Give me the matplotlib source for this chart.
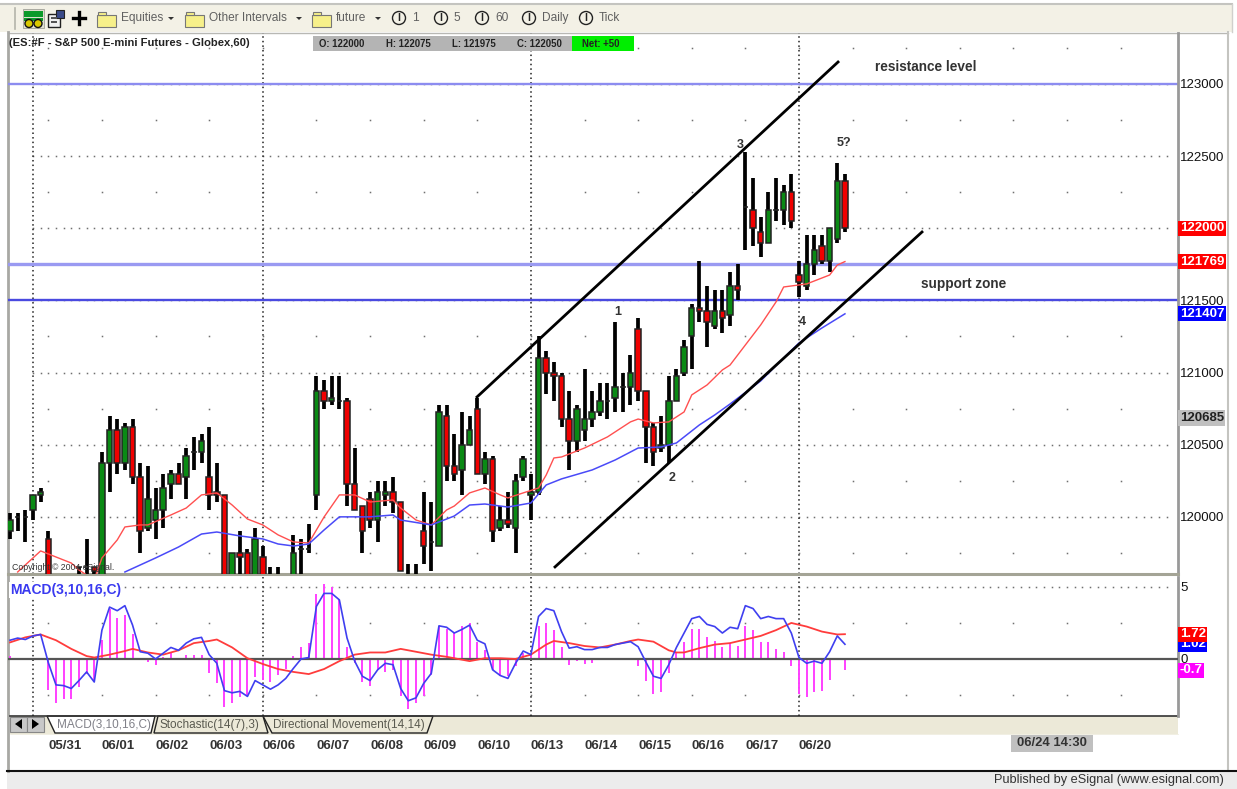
import matplotlib
matplotlib.use("Agg")
import matplotlib.pyplot as plt
from matplotlib.patches import Rectangle, Polygon, Circle
from matplotlib.transforms import blended_transform_factory
import numpy as np

plt.rcParams['font.family'] = ['Liberation Sans', 'DejaVu Sans']

W, H = 1237, 789

opens = [119900,120000,120000,120050,120150,119850,119400,119400,119400,119650,
         119650,119650,119450,120375,120600,120375,120625,120275,119925,119975,
         120050,120225,120300,120275,120450,120450,120275,120175,120150,119450,
         119750,119750,119450,119725,119400,119400,119400,119450,119775,119775,
         120150,120875,120800,120800,120800,120225,120075,120125,119975,120150,
         120175,120100,119400,119400,119900,119825,119800,120700,120350,120325,
         120500,120750,120300,120400,119925,119975,119925,120275,120150,120175,
         121100,121000,120975,120675,120525,120600,120675,120725,120800,120825,
         120900,120900,121300,120875,120625,120475,120500,120800,121000,121250,
         121450,121425,121325,121425,121400,121600,122150,122125,121975,121900,
         122125,122125,122250,121675,121600,121750,121875,121775,121925,122325]
highs = [120025,120025,120050,120150,120200,119900,119450,119450,119450,119650,
         119850,119650,120450,120700,120675,120650,120675,120375,120350,120200,
         120300,120325,120375,120475,120550,120575,120625,120375,120150,119750,
         119900,119775,119925,119800,119650,119650,119450,119875,119850,119950,
         120975,120950,120975,120975,120825,120475,120075,120175,120250,120250,
         120275,120100,119675,119675,120175,120100,120775,120775,120575,120725,
         120700,120825,120450,120425,120075,120175,120300,120425,120300,121250,
         121150,121075,121000,120875,120775,121025,120875,120925,120925,121350,
         121000,121125,121375,120875,120650,120700,120975,121025,121225,121475,
         121775,121600,121575,121575,121700,121750,122525,122350,122075,122250,
         122350,122300,122375,121775,121950,121950,121950,122000,122450,122375]
lows = [119850,119900,119825,119975,120100,119400,119300,119300,119300,119500,
        119500,119500,119400,120175,120300,120325,120225,119750,119900,119850,
        119925,120125,120225,120125,120325,120375,120050,120100,119400,119400,
        119400,119400,119400,119400,119400,119400,119300,119400,119400,119750,
        120050,120750,120775,120750,120075,120050,119750,119925,119825,120075,
        120025,119625,119400,119400,119675,119625,119800,120250,120250,120150,
        120500,120300,120225,119825,119900,119925,119750,120250,119975,120150,
        120850,120800,120625,120325,120450,120525,120625,120700,120675,120725,
        120725,120775,120800,120375,120350,120450,120375,120800,120975,121025,
        121350,121175,121300,121275,121325,121500,121850,121875,121800,121900,
        122050,122025,122000,121525,121575,121675,121750,121700,121900,121975]
closes = [119975,120000,120000,120150,120175,119450,119350,119350,119350,119650,
          119650,119625,120375,120600,120375,120625,120275,119900,120125,120050,
          120200,120300,120225,120425,120450,120525,120150,120150,119450,119750,
          119725,119450,119850,119450,119400,119400,119400,119750,119775,119775,
          120875,120800,120825,120800,120225,120050,119900,119975,120175,120175,
          120100,119625,119400,119400,119800,119825,120725,120350,120300,120500,
          120600,120300,120400,119900,119975,119950,120250,120400,120175,121100,
          121000,120975,120675,120525,120750,120675,120725,120800,120800,120900,
          120900,121000,120875,120625,120450,120500,120800,120975,121175,121450,
          121425,121350,121425,121375,121600,121575,122150,122000,121900,122125,
          122125,122250,122050,121625,121750,121850,121775,122000,122325,122000]

ma_red_idx = [1,4,6,8,9,10,11,12,14,15,17,18,21,23,25,27,29,31,33,35,37,39,41,43,45,47,50,51,53,55,
              57,58,60,62,64,65,67,69,70,71,72,75,78,81,82,84,86,88,89,91,93,94,98,100,101,104,107,108,109]
ma_red_val = [119618,119764,119722,119680,119632,119597,119563,119715,119840,119930,119944,119944,
              120013,120061,120152,120166,120082,119985,119944,119875,119826,119819,119999,120152,
              120152,120103,120117,120061,119978,119944,120048,120075,120166,120200,120152,120131,
              120166,120200,120290,120408,120415,120477,120554,120658,120678,120651,120658,120727,
              120845,120914,121018,121052,121330,121489,121593,121614,121676,121745,121769]

ma_blue_idx = [15,19,22,25,27,30,33,35,37,39,41,43,45,47,50,51,55,57,58,60,62,65,68,70,72,76,79,82,85,87,
               90,92,94,98,101,103,106,109]
ma_blue_val = [119618,119715,119791,119881,119895,119868,119847,119812,119798,119812,119909,120000,
               120000,120000,120013,119978,119944,119985,120006,120082,120089,120068,120096,120221,
               120263,120325,120394,120477,120484,120512,120637,120706,120782,120942,121101,121205,
               121309,121407]

macd_hist = [.2,.1,-.1,0,0,-2.15,-3.08,-2.8,-2.78,-1.97,
             -1.07,-1.57,1.3,3.5,2.87,3.05,1.7,-.07,-.2,-.4,
             .15,.4,.1,.3,.3,.3,-1,-1.65,-3.35,-3.08,
             -2.66,-2.5,-1.27,-1.46,-1.57,-1.1,-.7,.2,.85,1.1,
             4.5,5.2,5,4.1,.85,-.3,-1.57,-1.9,-.75,-.9,
             -.75,-2.6,-3.47,-3.08,-2.6,-1.1,2.3,2.1,1.85,2.3,
             2.5,1.2,.6,-.75,-1.2,-1.2,-.5,.4,.3,2.3,
             2.5,2,.8,-.4,-.15,-.35,-.3,0,.05,.05,
             .05,.1,-.5,-1.5,-2.4,-2.3,-1,.4,1.15,2.1,
             2.1,1.5,1.25,.8,1.1,.9,2.3,2,1.15,1.15,
             .7,.45,-.5,-2.4,-2.66,-2.27,-2.2,-1.46,.05,-.76]
macd_line = [1.3,1.45,1.35,1.6,1.7,-.25,-1.8,-1.85,-2.05,-1.5,
             -.9,-1.6,2,3.6,3.35,3.7,2.35,.5,.4,0,
             .4,.8,.6,1.1,1.4,1.5,.3,-.3,-2.2,-2.35,
             -2.25,-2.6,-1.5,-1.8,-2.1,-1.8,-1.35,-.65,0,.1,
             3.65,4.55,4.55,4.1,1.45,-.15,-1.2,-1.5,-.75,-.3,
             -.4,-2.05,-2.9,-2.7,-1.7,-1,2.3,2.2,1.8,2.05,
             2.35,1.3,1.05,-.75,-1.15,-1.35,-.3,.55,.3,2.95,
             3.5,3.35,1.9,.75,.85,.65,.65,.8,.8,1,
             1.1,1.2,.85,-.2,-1.2,-1.35,-.4,.8,1.8,2.8,
             2.95,2.4,2.25,1.8,2.2,2.1,3.7,3.5,2.8,2.95,
             2.8,2.8,1.8,.1,-.3,-.15,-.3,.5,1.6,1.02]
signal_idx = [0,2,4,6,8,10,11,13,15,16,18,20,22,24,26,27,29,31,33,35,37,39,41,43,45,47,49,51,53,55,
              57,60,62,64,66,68,70,71,73,75,77,79,81,82,84,86,87,88,90,92,94,96,98,100,102,104,106,108,109]
signal_val = [1.15,1.5,1.7,1.3,.7,.2,.1,.3,.55,.7,.45,.3,.6,1.1,1.25,1.35,.8,.05,-.35,-.7,-.9,-1.05,
              -.7,-.15,.3,.45,.45,.7,.5,.3,.15,-.15,.05,.05,0,.3,1,1.25,1.1,.9,.8,1,1.25,1.35,1.2,.6,
              .45,.45,.75,1,1.1,1.35,1.6,2,2.5,2.25,1.9,1.7,1.72]

date_labels = ["05/31","06/01","06/02","06/03","06/06","06/07","06/08","06/09",
               "06/10","06/13","06/14","06/15","06/16","06/17","06/20"]
date_idx = [5+7*k for k in range(len(date_labels))]
session_idx = [3,33,68,103]
price_ticks = [120000,120500,121000,121500,122000,122500,123000]
level_lines = [123000,121750,121500]
upper_channel = ([60.97,108.1],[120831,123152])
lower_channel = ([71.15,119.06],[119653,121974])

def px_rect(l, t, r, b):
    return [l/W, 1-b/H, (r-l)/W, (b-t)/H]

fig = plt.figure(figsize=(W/100, H/100), dpi=100, facecolor='white')

# chrome layer in pixel coordinates
ch = fig.add_axes([0,0,1,1], zorder=0)
ch.set_xlim(0,W); ch.set_ylim(H,0); ch.axis('off')
def R(l,t,r,b,fc,ec='none',lw=0,**k):
    ch.add_patch(Rectangle((l,t),r-l,b-t,fc=fc,ec=ec,lw=lw,**k))
R(0,3,1232,32,'#f3f1e6')
ch.plot([0,1232],[4,4],color='#c4c4c0',lw=1.5)
ch.plot([1232,1232],[4,32],color='#d0d0cc',lw=1)
ch.plot([8,1228],[32.5,32.5],color='#b8b8b4',lw=1)
ch.plot([8,8],[32,771],color='#a8a8a4',lw=2)
ch.plot([1228,1228],[32,771],color='#c4c4c0',lw=1.5)
R(7,772,1237,789,'#ececec')
ch.plot([7,1237],[771,771],color='#111111',lw=1.5)
# toolbar
ch.plot([15,15],[8,29],color='#b4b4aa',lw=1.2)
R(23,9,44,28,'#dfdfd0',ec='#a0a098',lw=.6)
R(24,11,43,17,'#0a9a2a'); R(24,18,43,21,'#0a9a2a')
for cx in (29,38):
    ch.add_patch(Circle((cx,23.5),4,fc='#d8c800',ec='#111',lw=1))
R(48,14,60,27,'#f0f0f0',ec='#222',lw=1)
R(56,10,64,18,'#3a4a88',ec='#222',lw=.8)
R(51,17,57,19,'#555'); R(51,21,57,23,'#555')
ch.plot([79,79],[12,24],color='k',lw=2.4); ch.plot([73,85],[18,18],color='k',lw=2.4)
tool_font = dict(fontsize=8.6,color='#606060',va='center',ha='left')
for x,lab,ax_ in [(97,'Equities',171),(185,'Other Intervals',299),(312,'future',378)]:
    R(x,15,x+19,27,'#f7f08a',ec='#777',lw=.8)
    R(x+1,12,x+9,15,'#f7f08a',ec='#777',lw=.8)
    tx = x+24
    ch.text(tx,18,lab,**tool_font)
    ch.add_patch(Polygon([(ax_-3,17),(ax_+3,17),(ax_,20)],fc='#333'))
for cx,lab in [(399,'1'),(441,'5'),(482,'60'),(529,'Daily'),(586,'Tick')]:
    ch.add_patch(Circle((cx,18),6.5,fc='#f3f1e6',ec='#222',lw=1))
    ch.text(cx,18,'I',fontsize=7.5,ha='center',va='center',color='#222',fontweight='bold')
    ch.text(cx+13,18,lab,**tool_font)
# tab bar
R(10,716,1178,733.5,'#ece9d8')
ch.plot([10,1178],[716,716],color='#333',lw=1.2)
ch.plot([10,1178],[733.5,733.5],color='#ece9d8',lw=.5)
for l in (10,27):
    R(l,717,l+17,732,'#c8c8c8',ec='#888',lw=.8)
ch.add_patch(Polygon([(22,719),(22,729),(15,724)],fc='k'))
ch.add_patch(Polygon([(32,719),(32,729),(39,724)],fc='k'))
ch.add_patch(Polygon([(47,716),(155,716),(151,733),(55,733)],fc='white',ec='#222',lw=1))
ch.add_patch(Polygon([(158,716),(263,716),(268,733),(154,733)],fc='#ece9d8',ec='#222',lw=1))
ch.add_patch(Polygon([(263,716),(433,716),(427,733),(272,733)],fc='#ece9d8',ec='#222',lw=1))
tab_font = dict(fontsize=8.5,va='center',ha='left')
ch.text(57,725,'MACD(3,10,16,C)',color='#808088',**tab_font)
ch.text(160,725,'Stochastic(14(7),3)',color='#5a5a50',**tab_font)
ch.text(273,725,'Directional Movement(14,14)',color='#5a5a50',**tab_font)
R(1011,735,1093,752,'#c0c0c0')
ch.text(1052,743.5,'06/24 14:30',fontsize=9.4,fontweight='bold',color='#333',ha='center',va='center')
ch.text(1224,780.5,'Published by eSignal (www.esignal.com)',fontsize=9.2,color='#333',ha='right',va='center')
# header strip
ch.text(9,43,'(ES:#F - S&P 500 E-mini Futures - Globex,60)',fontsize=8.15,fontweight='bold',color='#222',
        ha='left',va='center',zorder=10)

# price panel
idx = np.arange(len(opens))
xlim = ((8-10)/7.66, (1178-10)/7.66)
ax = fig.add_axes(px_rect(8,33,1178,574), zorder=2)
ax.patch.set_alpha(0)
ax.set_xlim(*xlim); ax.set_ylim(119604,123353)
for s in ax.spines.values(): s.set_visible(False)
ax.spines['right'].set_visible(True); ax.spines['right'].set_color('#999'); ax.spines['right'].set_linewidth(2)
ax.spines['bottom'].set_visible(True); ax.spines['bottom'].set_color('#a4a496'); ax.spines['bottom'].set_linewidth(2.2)
ax.yaxis.tick_right()
ax.set_yticks(price_ticks); ax.set_xticks([])
ax.tick_params(axis='y',length=0,pad=1.5,labelsize=9.5,colors='#111')
for lb in ax.get_yticklabels(): lb.set_fontweight('medium')

grid_c = '#707070'
gx = np.arange(3,152,1)
gy = np.arange(119750,123400,250)
for g in price_ticks:
    ax.plot(gx,[g]*len(gx),ls='none',marker='s',ms=1.1,mew=0,color=grid_c,zorder=1)
col_x = np.array(date_idx+[5+7*k for k in range(15,21)])
for yy in gy:
    if yy not in price_ticks:
        ax.plot(col_x,[yy]*len(col_x),ls='none',marker='s',ms=1.1,mew=0,color=grid_c,zorder=1)

for s_ in session_idx:
    ax.axvline(s_,color='#222',lw=1.1,ls=(0,(1,2)),zorder=1)

ax.axhline(level_lines[0],color='#8c8cf0',lw=1.7,zorder=1.5)
ax.axhline(level_lines[1],color='#9a9af2',lw=2.4,zorder=1.5)
ax.axhline(level_lines[2],color='#4a4ae0',lw=1.7,zorder=1.5)

colors = ['#0a8a14' if c>o else ('#f00000' if c<o else '#111111') for o,c in zip(opens,closes)]
ax.vlines(idx,lows,highs,color='black',lw=2.7,zorder=3)
ax.bar(idx,np.abs(np.array(closes)-np.array(opens)),bottom=np.minimum(opens,closes),
       width=.72,color=colors,edgecolor='#222222',linewidth=1.1,zorder=4)
ax.plot(ma_red_idx,ma_red_val,color='#ff5050',lw=1,zorder=5)
ax.plot(ma_blue_idx,ma_blue_val,color='#4a4af8',lw=1.1,zorder=5)
ax.plot(*upper_channel,color='black',lw=2,zorder=6)
ax.plot(*lower_channel,color='black',lw=2,zorder=6)

lab = dict(fontsize=9,fontweight='bold',color='#333',zorder=7,va='center')
ax.text(112.9,123115,'resistance level',ha='left',**{**lab,'fontsize':9.8})
ax.text(118.9,121615,'support zone',ha='left',**{**lab,'fontsize':9.8})
for x,y,t,ha_ in [(79.4,121420,'1','center'),(86.4,120270,'2','center'),(95.4,122580,'3','center'),
                  (103.4,121350,'4','center'),(108.9,122590,'5?','center')]:
    ax.text(x,y,t,ha=ha_,**lab)
ax.text(0.3,119652,'Copyright \u00a9 2004 eSignal.',fontsize=6.3,color='#333',ha='left',va='center',zorder=7)

tr = blended_transform_factory(ax.transAxes,ax.transData)
def side(a,tr_,val,txt,fc,col='white',z=9,fs=9.5):
    a.text(1.0015,val,txt,transform=tr_,fontsize=fs,color=col,fontweight='bold',ha='left',va='center',
           zorder=z,clip_on=False,bbox=dict(boxstyle='square,pad=0.12',fc=fc,ec='none'))
side(ax,tr,122000,'122000','#ff0000')
side(ax,tr,121769,'121769','#ff0000')
side(ax,tr,121407,'121407','#0000ff')
side(ax,tr,120685,'120685','#c0c0c0','#222')

# OHLC strip
ch2 = fig.add_axes([0,0,1,1],zorder=8); ch2.set_xlim(0,W); ch2.set_ylim(H,0); ch2.axis('off')
ch2.add_patch(Rectangle((313,36),259,15,fc='#b4b4b4',ec='none'))
ch2.add_patch(Rectangle((572,36),62,15,fc='#00ee00',ec='none'))
ohlc = dict(fontsize=6.9,fontweight='bold',color='#222',va='center',ha='left')
for x,t in [(319,'O: 122000'),(386,'H: 122075'),(452,'L: 121975'),(517,'C: 122050'),(582,'Net: +50')]:
    ch2.text(x,43.5,t,**ohlc)

# MACD panel
am = fig.add_axes(px_rect(8,577,1178,716), zorder=2)
am.patch.set_alpha(0)
am.set_xlim(*xlim); am.set_ylim(-3.96,5.69)
for s in am.spines.values(): s.set_visible(False)
am.spines['right'].set_visible(True); am.spines['right'].set_color('#999'); am.spines['right'].set_linewidth(2)
am.yaxis.tick_right(); am.set_yticks([0,5])
am.tick_params(axis='y',length=0,pad=1.5,labelsize=9.5,colors='#111')
am.set_xticks(date_idx); am.set_xticklabels(date_labels,fontsize=9.5,fontweight='bold',color='#333',ha='left')
am.tick_params(axis='x',length=0,pad=17.5)
for r_ in (5,):
    am.plot(gx,[r_]*len(gx),ls='none',marker='s',ms=1.1,mew=0,color=grid_c,zorder=1)
for r_ in (2.5,-2.5):
    am.plot(col_x,[r_]*len(col_x),ls='none',marker='s',ms=1.1,mew=0,color=grid_c,zorder=1)
for s_ in session_idx:
    am.axvline(s_,color='#222',lw=1.1,ls=(0,(1,2)),zorder=1)
am.vlines(idx,0,macd_hist,color='#ff40ff',lw=1.4,zorder=2)
am.axhline(0,color='#555555',lw=1.6,zorder=3)
am.plot(signal_idx,signal_val,color='#ff3c3c',lw=1.3,zorder=4)
am.plot(idx,macd_line,color='#3f3ff0',lw=1.2,zorder=5)
am.text(0.0,4.8,'MACD(3,10,16,C)',fontsize=10,fontweight='bold',color='#3a3af0',ha='left',va='center',zorder=7,
        bbox=dict(fc='white',ec='none',pad=.5))
trm = blended_transform_factory(am.transAxes,am.transData)
side(am,trm,1.02,'1.02','#0000ff',z=8)
side(am,trm,1.72,'1.72','#ff0000',z=9)
side(am,trm,-.8,'-0.7','#ff00ff',z=9)

fig.savefig('out.png',dpi=100,facecolor='white')
